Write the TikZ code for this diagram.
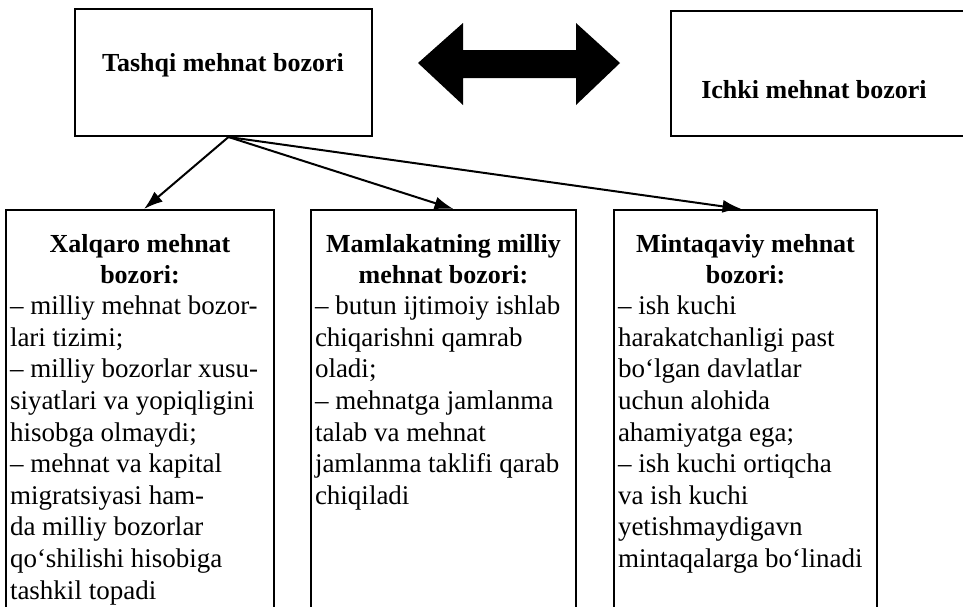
\documentclass[tikz,border=0pt]{standalone}
\usepackage{fontspec}
\setmainfont{Liberation Serif}
\usetikzlibrary{arrows.meta}

\newcommand{\sarlavha}[1]{{\centering\fontsize{26}{31}\selectfont\bfseries\rule{0pt}{42pt}#1\par}}

\begin{document}
\begin{tikzpicture}[x=1pt, y=1pt, >={Latex[length=19pt,width=13pt]},
    topbox/.style={draw, line width=2pt, inner sep=0pt, anchor=north west},
    toptext/.style={font=\fontsize{26}{31}\selectfont\bfseries, anchor=base},
    panel/.style={draw, line width=2pt, anchor=north west, inner xsep=4pt, inner ysep=0pt,
        font=\fontsize{27}{31.6}\selectfont}]
    \useasboundingbox (0,0) rectangle (963,-606);

    % Yuqori qutilar
    \node[topbox, minimum width=297, minimum height=127] (tashqi) at (74,-8) {};
    \node[toptext] (tashqiT) at (223,-71) {Tashqi mehnat bozori};
    \node[topbox, minimum width=305, minimum height=125] (ichki) at (670,-10) {};
    \node[toptext] (ichkiT) at (814,-98) {Ichki mehnat bozori};

    % Ikki tomonlama strelka
    \fill (418,-63) -- (463,-23) -- (463,-50) -- (576,-50) -- (576,-23) -- (620,-63)
        -- (576,-105) -- (576,-78) -- (463,-78) -- (463,-105) -- cycle;

    % Pastki bo'limlar
    \node[panel] (xalqaro) at (5,-209) {\parbox[t][440pt][t]{260pt}{\raggedright
        \sarlavha{Xalqaro mehnat\\ bozori:}
        – milliy mehnat bozor-\\ lari tizimi;\\ – milliy bozorlar xusu-\\
        siyatlari va yopiqligini\\ hisobga olmaydi;\\ – mehnat va kapital\\
        migratsiyasi ham-\\ da milliy bozorlar\\ qo‘shilishi hisobiga\\ tashkil topadi}};
    \node[panel] (milliy) at (310,-209) {\parbox[t][440pt][t]{257pt}{\raggedright
        \sarlavha{Mamlakatning milliy\\ mehnat bozori:}
        – butun ijtimoiy ishlab\\ chiqarishni qamrab\\ oladi;\\ – mehnatga jamlanma\\
        talab va mehnat\\ jamlanma taklifi qarab\\ chiqiladi}};
    \node[panel] (mintaqa) at (613,-209) {\parbox[t][440pt][t]{255pt}{\raggedright
        \sarlavha{Mintaqaviy mehnat\\ bozori:}
        – ish kuchi\\ harakatchanligi past\\ bo‘lgan davlatlar\\ uchun alohida\\
        ahamiyatga ega;\\ – ish kuchi ortiqcha\\ va ish kuchi\\ yetishmaydigavn\\
        mintaqalarga bo‘linadi}};

    % Strelkalar
    \draw[->, line width=2pt] ([xshift=5pt]tashqi.south) -- ([xshift=4pt]xalqaro.north);
    \draw[->, line width=2pt] ([xshift=5pt]tashqi.south) -- ([xshift=10pt]milliy.north);
    \draw[->, line width=2pt] ([xshift=5pt]tashqi.south) -- ([xshift=-4pt]mintaqa.north);
\end{tikzpicture}
\end{document}
